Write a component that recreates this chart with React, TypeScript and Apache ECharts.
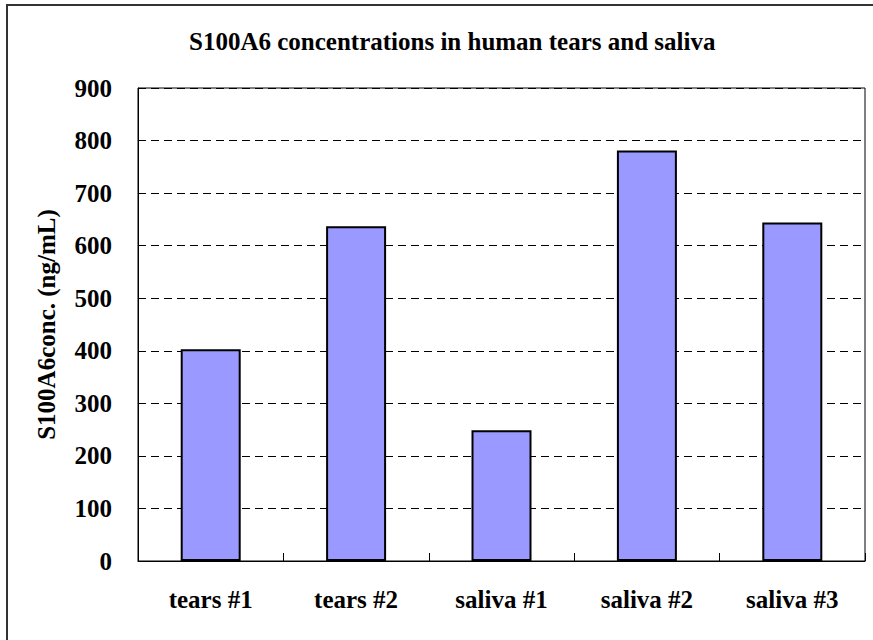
import React, { useEffect, useRef } from "react";
import * as echarts from "echarts";

const categories = ["tears #1", "tears #2", "saliva #1", "saliva #2", "saliva #3"];
const concentrations = [403, 637, 249, 781, 644];
const titleText = "S100A6 concentrations in human tears and saliva";
const yAxisName = "S100A6conc. (ng/mL)";

const FONT = "'Liberation Serif', 'Times New Roman', serif";

export default function App() {
  const ref = useRef<HTMLDivElement>(null);
  useEffect(() => {
    if (!ref.current) return;
    const chart = echarts.init(ref.current, undefined, { renderer: "svg" });
    chart.setOption({
      animation: false,
      backgroundColor: "#ffffff",
      title: {
        text: titleText,
        left: 184,
        top: 24,
        textStyle: { fontFamily: FONT, fontWeight: "bold", fontSize: 25, color: "#000" },
      },
      graphic: [
        {
          type: "rect",
          shape: { x: 7, y: 5, width: 950, height: 700 },
          style: { fill: "none", stroke: "#333", lineWidth: 2 },
          silent: true,
        },
      ],
      grid: {
        left: 138,
        right: 8,
        top: 88,
        bottom: 79,
        show: true,
        borderColor: "#000",
        borderWidth: 1,
        backgroundColor: "transparent",
      },
      xAxis: {
        type: "category",
        data: categories,
        axisLine: { lineStyle: { color: "#000", width: 1 } },
        axisTick: { show: true, inside: true, length: 8, lineStyle: { color: "#000" } },
        axisLabel: {
          fontFamily: FONT,
          fontWeight: "bold",
          fontSize: 25,
          color: "#000",
          margin: 26,
        },
      },
      yAxis: {
        type: "value",
        min: 0,
        max: 900,
        interval: 100,
        name: yAxisName,
        nameLocation: "middle",
        nameGap: 79,
        nameTextStyle: { fontFamily: FONT, fontWeight: "bold", fontSize: 25, color: "#000" },
        axisLine: { show: true, lineStyle: { color: "#000", width: 1 } },
        axisTick: { show: true, inside: true, length: 5, lineStyle: { color: "#000" } },
        axisLabel: {
          fontFamily: FONT,
          fontWeight: "bold",
          fontSize: 25,
          color: "#000",
          margin: 26,
        },
        splitLine: {
          show: true,
          lineStyle: { color: "#000", width: 1, type: [8, 5] },
        },
      },
      series: [
        {
          type: "bar",
          data: concentrations,
          barWidth: 60,
          itemStyle: { color: "#9999FF", borderColor: "#000", borderWidth: 2 },
        },
      ],
    });
    return () => chart.dispose();
  }, []);
  return (
    <div
      ref={ref}
      style={{ position: "fixed", left: 0, top: 0, width: 873, height: 640 }}
    />
  );
}
